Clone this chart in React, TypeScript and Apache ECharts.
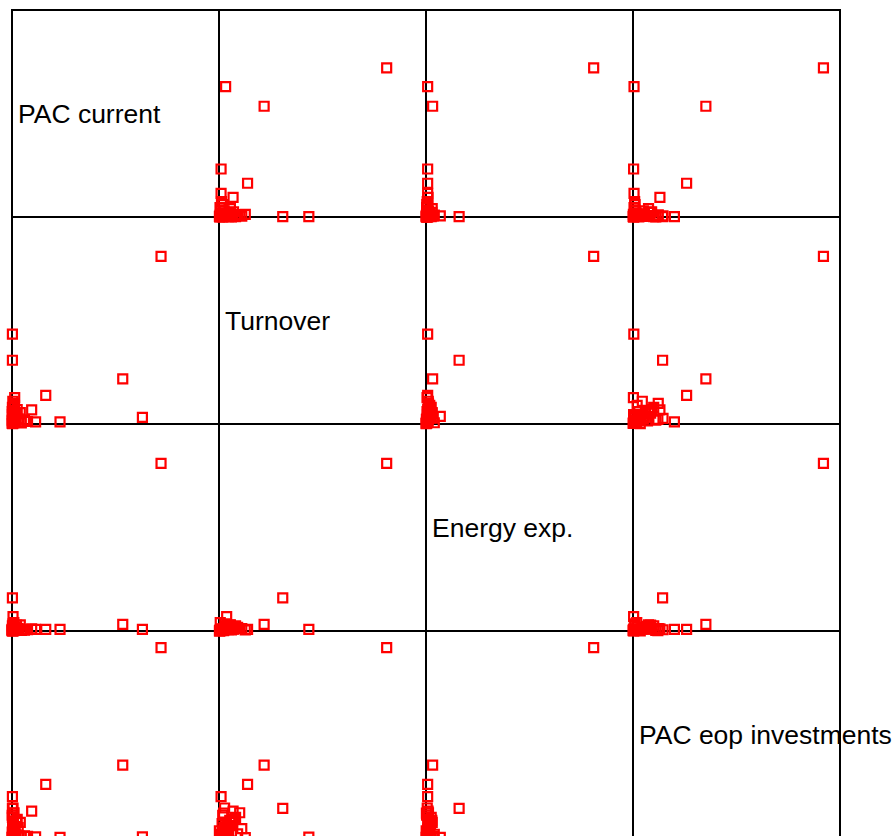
import React, { useEffect, useRef } from "react";
import * as echarts from "echarts";

const variableNames = ["PAC current", "Turnover", "Energy exp.", "PAC eop investments"];

// values per observation, in % of each variable's axis range
const pacCurrent = [72, 63, 53.5, 23.2, 16.3, 11.4, 9.5, 1.3, 0.2, 0.2, 0.2, 1.0, 0.5, 0.5,
  0.2, 0.5, 0.1, 1.0, 0.3, 2.0, 0.4, 1.5, 0.6, 3.0, 0.2, 0.8, 4.0, 0.1, 1.2, 0.5, 2.5, 0.3, 0.7, 1.8,
  0.2, 0.9, 0.4, 3.5, 0.6, 0.1, 1.4, 0.3, 2.2, 0.5, 6.0, 4.5, 7.5];
const turnover = [81, 3.2, 21.8, 1.0, 13.8, 1.0, 6.8, 12.7, 43.4, 30.8, 1.0, 10.0, 2.7, 3.7,
  0.5, 1.2, 0.3, 2.0, 3.5, 1.5, 5.0, 4.0, 6.5, 2.5, 8.0, 0.8, 5.5, 1.8, 9.0, 2.8, 7.0, 0.2, 3.0, 1.0,
  4.5, 0.6, 11.0, 0.9, 2.2, 6.0, 3.8, 0.4, 5.2, 1.5, 2.0, 0.5, 1.2];
const energyExp = [81, 0.8, 3.2, 0.8, 0.8, 0.8, 1.0, 0.5, 0.8, 16.0, 0.8, 1.2, 0.6, 6.9,
  0.3, 0.4, 0.1, 0.6, 1.0, 0.5, 1.5, 0.8, 2.0, 1.2, 2.5, 0.2, 3.0, 0.3, 1.8, 3.5, 0.9, 0.1, 2.2, 0.4,
  0.7, 4.0, 1.1, 0.6, 0.2, 0.5, 1.6, 0.3, 2.8, 0.9, 0.4, 0.3, 0.6];
const pacEop = [92, 0.5, 35.2, 0.3, 25.9, 0.5, 13.0, 0.2, 0.4, 14.3, 20.0, 12.2, 14.5, 0.3,
  0.4, 1.0, 0.2, 2.5, 4.0, 1.5, 6.0, 3.0, 8.0, 5.0, 10.0, 0.6, 7.5, 11.0, 2.0, 0.8, 9.0, 3.5, 6.5, 1.2,
  0.3, 1.8, 4.5, 0.9, 12.0, 2.8, 5.5, 0.1, 8.5, 7.0, 1.0, 0.5, 0.8];

const axisMax = [100, 100, 100, 100];

export default function App() {
  const ref = useRef<HTMLDivElement>(null);
  useEffect(() => {
    if (!ref.current) return;
    const chart = echarts.init(ref.current, null, { renderer: "svg" });
    const vars = [pacCurrent, turnover, energyExp, pacEop];
    const n = vars.length;
    const cell = 207;
    const left0 = 12;
    const top0 = 10;
    const grids: any[] = [];
    const xAxes: any[] = [];
    const yAxes: any[] = [];
    const series: any[] = [];
    const graphics: any[] = [];
    for (let i = 0; i < n; i++) {
      for (let j = 0; j < n; j++) {
        const idx = i * n + j;
        grids.push({
          left: left0 + cell * j,
          top: top0 + cell * i,
          width: cell,
          height: cell,
          show: true,
          borderColor: "#000",
          borderWidth: 2,
          backgroundColor: "transparent",
          containLabel: false,
        });
        xAxes.push({ type: "value", gridIndex: idx, min: 0, max: axisMax[j], show: false });
        yAxes.push({ type: "value", gridIndex: idx, min: 0, max: axisMax[i], show: false });
        if (i !== j) {
          series.push({
            type: "scatter",
            xAxisIndex: idx,
            yAxisIndex: idx,
            symbol: "rect",
            symbolSize: 9,
            clip: false,
            silent: true,
            itemStyle: { color: "transparent", borderColor: "#ff0000", borderWidth: 2.2, opacity: 1 },
            data: vars[j].map((v, k) => [v, vars[i][k]]),
          });
        } else {
          graphics.push({
            type: "text",
            x: left0 + cell * j + 6,
            y: top0 + cell * i + cell / 2,
            z: 100,
            style: {
              text: variableNames[i],
              fill: "#000",
              font: '26.5px "Liberation Sans", Arial, sans-serif',
              verticalAlign: "middle",
              align: "left",
            },
          });
        }
      }
    }
    chart.setOption({
      animation: false,
      backgroundColor: "#fff",
      grid: grids,
      xAxis: xAxes,
      yAxis: yAxes,
      series,
      graphic: graphics,
    });
    return () => chart.dispose();
  }, []);
  return (
    <div
      ref={ref}
      style={{ position: "fixed", left: 0, top: 0, width: 896, height: 860 }}
    />
  );
}
